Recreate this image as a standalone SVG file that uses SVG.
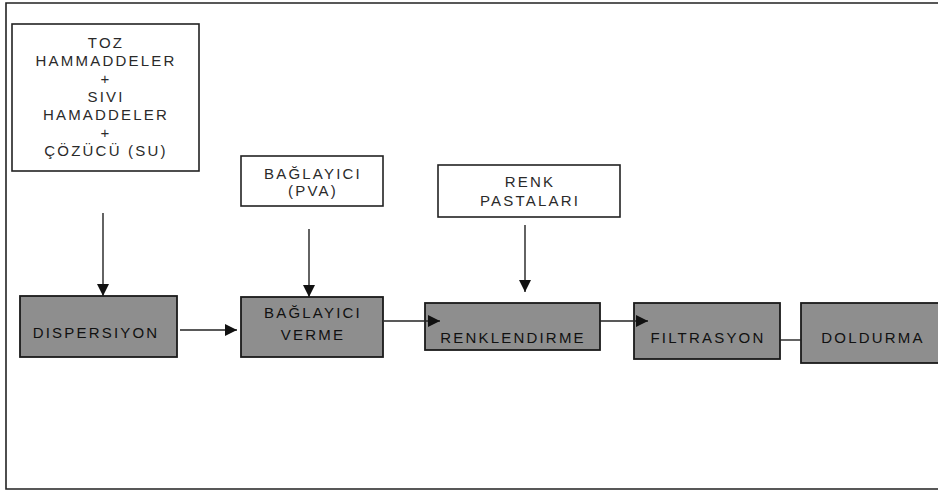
<svg xmlns="http://www.w3.org/2000/svg" width="938" height="492" viewBox="0 0 938 492">
<style>
.frame{fill:none;stroke:#222;stroke-width:1.6}
.wbox{fill:#fff;stroke:#222;stroke-width:1.6}
.gbox{fill:#8e8e8e;stroke:#1a1a1a;stroke-width:1.8}
.t{font-family:"Liberation Sans",Arial,sans-serif;font-size:15px;letter-spacing:2.2px;text-anchor:middle;fill:#2a2a2a}
.g{fill:#111}
.c{fill:none;stroke:#222;stroke-width:1.4}
</style>
<defs>
<marker id="ah" viewBox="0 0 12 12" refX="12" refY="6" markerWidth="12" markerHeight="12" markerUnits="userSpaceOnUse" orient="auto">
<path d="M0,0 L12,6 L0,12 z" fill="#111"/>
</marker>
</defs>
<rect width="938" height="492" fill="#fff"/>
<path class="frame" d="M938,3 L6,3 L6,489 L938,489"/>

<g id="n-hammadde">
<rect class="wbox" x="12" y="24" width="187" height="147"/>
<text class="t" x="106" y="48">TOZ</text>
<text class="t" x="106" y="66">HAMMADDELER</text>
<text class="t" x="106" y="84">+</text>
<text class="t" x="106" y="102">SIVI</text>
<text class="t" x="106" y="120">HAMADDELER</text>
<text class="t" x="106" y="138">+</text>
<text class="t" x="106" y="156">ÇÖZÜCÜ (SU)</text>
</g>

<g id="n-pva">
<rect class="wbox" x="241" y="156" width="142" height="50"/>
<text class="t" x="313" y="179">BAĞLAYICI</text>
<text class="t" x="313" y="196">(PVA)</text>
</g>

<g id="n-renkpasta">
<rect class="wbox" x="438" y="165" width="182" height="52"/>
<text class="t" x="530" y="187">RENK</text>
<text class="t" x="530" y="206">PASTALARI</text>
</g>

<g id="n-dispersiyon">
<rect class="gbox" x="20" y="296" width="157" height="61"/>
<text class="t g" x="96" y="338">DISPERSIYON</text>
</g>

<g id="n-baglayici">
<rect class="gbox" x="241" y="297" width="142" height="60"/>
<text class="t g" x="313" y="318">BAĞLAYICI</text>
<text class="t g" x="313" y="340">VERME</text>
</g>

<g id="n-renklendirme">
<rect class="gbox" x="425" y="303" width="175" height="47"/>
<text class="t g" x="513" y="343">RENKLENDIRME</text>
</g>

<g id="n-filtrasyon">
<rect class="gbox" x="634" y="303" width="146" height="56"/>
<text class="t g" x="708" y="343">FILTRASYON</text>
</g>

<g id="n-doldurma">
<rect class="gbox" x="801" y="303" width="140" height="60"/>
<text class="t g" x="873" y="343">DOLDURMA</text>
</g>

<g id="connectors">
<line class="c" x1="103" y1="213" x2="103" y2="296" marker-end="url(#ah)"/>
<line class="c" x1="309" y1="229" x2="309" y2="297" marker-end="url(#ah)"/>
<line class="c" x1="525" y1="225" x2="525" y2="292" marker-end="url(#ah)"/>
<line class="c" x1="180" y1="330" x2="237" y2="330" marker-end="url(#ah)"/>
<line class="c" x1="384" y1="321" x2="440" y2="321" marker-end="url(#ah)"/>
<line class="c" x1="600" y1="321" x2="648" y2="321" marker-end="url(#ah)"/>
<line class="c" x1="780" y1="340" x2="801" y2="340"/>
</g>
</svg>
